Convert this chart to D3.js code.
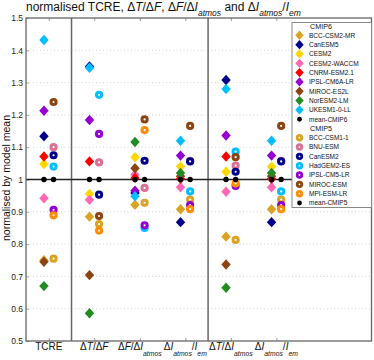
<!DOCTYPE html>
<html><head><meta charset="utf-8">
<script src="https://cdn.jsdelivr.net/npm/d3@7"></script>
<style>body{margin:0;background:#fff}svg{display:block;font-family:"Liberation Sans",Arial,sans-serif}</style>
</head><body><svg id="c" width="374" height="360"></svg>
<script>
// categories (x positions 1..6)
const categories = ["TCRE","dTdF","dFdIatm","dIatmIem","dTdIatm","dIatmIem2"];
const yTicks = [0.5,0.6,0.7,0.8,0.9,1,1.1,1.2,1.3,1.4,1.5];
const yTickLabels = ["0.5","0.6","0.7","0.8","0.9","1","1.1","1.2","1.3","1.4","1.5"];

// CMIP6 models (diamonds)
const cmip6Names = ["BCC-CSM2-MR","CanESM5","CESM2","CESM2-WACCM","CNRM-ESM2.1","IPSL-CM6A-LR","MIROC-ES2L","NorESM2-LM","UKESM1-0-LL","mean-CMIP6"];
const cmip6Colors = ["#D9A323","#00008B","#FFD700","#FF69B4","#FF0000","#9400D3","#8B4513","#228B22","#00BFFF","#000000"];
const cmip6Values = [
  [0.750, 0.885, 0.922, 0.908, 0.823, 0.908],
  [1.134, 1.350, 0.958, 0.868, 1.308, 0.868],
  [1.048, 0.955, 1.069, 1.040, 1.024, 1.040],
  [0.942, 0.937, 1.015, 0.976, 0.962, 0.976],
  [1.071, 1.056, 1.005, 1.002, 1.071, 1.002],
  [1.213, 1.184, 0.965, 1.074, 1.136, 1.074],
  [0.745, 0.704, 1.035, 1.010, 0.737, 1.010],
  [0.670, 0.586, 1.116, 1.020, 0.665, 1.020],
  [1.432, 1.346, 0.948, 1.120, 1.280, 1.120],
  [1, 1, 1, 1, 1, 1]
];
// CMIP5 models (circles)
const cmip5Names = ["BCC-CSM1-1","BNU-ESM","CanESM2","HadGEM2-ES","IPSL-CM5-LR","MIROC-ESM","MPI-ESM-LR","mean-CMIP5"];
const cmip5Colors = ["#D9A323","#DB7093","#00008B","#00BFFF","#9400D3","#8B4513","#FF8C00","#000000"];
const cmip5Values = [
  [0.755, 0.862, 0.928, 0.938, 0.813, 0.938],
  [1.100, 1.053, 0.974, 1.058, 1.043, 1.058],
  [1.075, 0.953, 1.058, 1.056, 1.024, 1.056],
  [1.040, 1.262, 0.850, 0.963, 1.086, 0.963],
  [0.906, 1.141, 0.858, 0.921, 0.980, 0.921],
  [1.240, 0.887, 1.186, 1.166, 1.069, 1.166],
  [0.889, 0.842, 1.153, 0.908, 0.988, 0.908],
  [1, 1, 1, 1, 1, 1]
];

const svg = d3.select("#c");
const L=26, R=371.5, T=18, B=341;
const x = d3.scaleLinear().domain([0.5, 8.09]).range([L, R]);
const y = d3.scaleLinear().domain([0.5, 1.5]).range([B, T]);

// grid
svg.append("g").selectAll("line").data(yTicks.slice(1,-1)).join("line")
  .attr("x1",L).attr("x2",R).attr("y1",d=>y(d)).attr("y2",d=>y(d))
  .attr("stroke","#c8c8c8").attr("stroke-width",0.8).attr("stroke-dasharray","1,2.5");

// axes with d3
const gl = svg.append("g").attr("transform",`translate(${L},0)`)
  .call(d3.axisLeft(y).tickValues(yTicks).tickFormat((d,i)=>yTickLabels[i]).tickSizeInner(-3).tickSizeOuter(0).tickPadding(3));
gl.select(".domain").remove();
gl.selectAll(".tick line").attr("stroke","#aaa");
gl.selectAll(".tick text").attr("font-size",8.5).attr("font-family","Liberation Sans, Arial, sans-serif").attr("fill","#222");

const xt = d3.range(1, categories.length+1);
const gb = svg.append("g").attr("transform",`translate(0,${B})`)
  .call(d3.axisBottom(x).tickValues(xt).tickSizeInner(-3).tickSizeOuter(0).tickFormat(""));
gb.select(".domain").remove(); gb.selectAll(".tick line").attr("stroke","#999");
const gt = svg.append("g").attr("transform",`translate(0,${T})`)
  .call(d3.axisTop(x).tickValues(xt).tickSizeInner(-3).tickSizeOuter(0).tickFormat(""));
gt.select(".domain").remove(); gt.selectAll(".tick line").attr("stroke","#999");

// separators
svg.append("g").selectAll("line").data([1.5,4.5]).join("line")
  .attr("x1",d=>x(d)).attr("x2",d=>x(d)).attr("y1",T).attr("y2",B)
  .attr("stroke","#666").attr("stroke-width",1.5);

// line at 1
svg.append("line").attr("x1",L).attr("x2",R).attr("y1",y(1)).attr("y2",y(1))
  .attr("stroke","#222").attr("stroke-width",1.3);

// frame
svg.append("rect").attr("x",L).attr("y",T).attr("width",R-L).attr("height",B-T)
  .attr("fill","none").attr("stroke","#666").attr("stroke-width",1.3);

const diamond = "M0,-5.2L4.7,0L0,5.2L-4.7,0Z";
const off = 4.8;
// CMIP6 diamonds
cmip6Values.forEach((vals,m)=>{
  const g = svg.append("g");
  vals.forEach((v,i)=>{
    if (cmip6Names[m].startsWith("mean")) {
      g.append("circle").attr("cx",x(i+1)-off).attr("cy",y(v)).attr("r",2.7).attr("fill","#000");
    } else {
      g.append("path").attr("d",diamond).attr("transform",`translate(${x(i+1)-off},${y(v)})`).attr("fill",cmip6Colors[m]);
    }
  });
});
// CMIP5 circles
cmip5Values.forEach((vals,m)=>{
  const g = svg.append("g");
  vals.forEach((v,i)=>{
    if (cmip5Names[m].startsWith("mean")) {
      g.append("circle").attr("cx",x(i+1)+off).attr("cy",y(v)).attr("r",2.7).attr("fill","#000");
    } else {
      g.append("circle").attr("cx",x(i+1)+off).attr("cy",y(v)).attr("r",2.6).attr("fill","#fff")
        .attr("stroke",cmip5Colors[m]).attr("stroke-width",3);
    }
  });
});

// x labels
function richLabel(sel, parts, mainSize, subSize, dySub){
  parts.forEach(p=>{
    const t = sel.append("tspan").text(p.t);
    if (p.i) t.attr("font-style","italic");
    if (p.s) t.attr("font-size",subSize).attr("dy",dySub);
    if (p.back) t.attr("dy",-dySub);
  });
}
const xLabelParts = [
  [{t:"TCRE"}],
  [{t:"Δ"},{t:"T",i:1},{t:"/Δ"},{t:"F",i:1}],
  [{t:"Δ"},{t:"F",i:1},{t:"/Δ"},{t:"I",i:1},{t:"atmos",s:1,i:1}],
  [{t:"Δ"},{t:"I",i:1},{t:"atmos",s:1,i:1},{t:"/",back:1},{t:"I",i:1},{t:"em",s:1,i:1}],
  [{t:"Δ"},{t:"T",i:1},{t:"/Δ"},{t:"I",i:1},{t:"atmos",s:1,i:1}],
  [{t:"Δ"},{t:"I",i:1},{t:"atmos",s:1,i:1},{t:"/",back:1},{t:"I",i:1},{t:"em",s:1,i:1}]
];
xLabelParts.forEach((parts,i)=>{
  const t = svg.append("text").attr("x",x(i+1)).attr("y",350).attr("text-anchor","middle")
    .attr("font-size",10).attr("fill","#111");
  richLabel(t, parts, 10, 6.8, 6);
});

// title
const title = svg.append("text").attr("x",26).attr("y",11).attr("font-size",12).attr("fill","#111");
richLabel(title, [{t:"normalised TCRE,  Δ"},{t:"T",i:1},{t:"/Δ"},{t:"F",i:1},{t:",  Δ"},{t:"F",i:1},{t:"/Δ"},{t:"I",i:1},
  {t:"atmos",s:1,i:1},{t:" and Δ",back:1},{t:"I",i:1},{t:"atmos",s:1,i:1},{t:"/",back:1},{t:"I",i:1},{t:"em",s:1,i:1}], 12, 8.5, 5);

// y label
svg.append("text").attr("transform","translate(9.5,178) rotate(-90)").attr("text-anchor","middle")
  .attr("font-size",10.5).attr("fill","#111").text("normalised by model mean");

// legend
const lg = svg.append("g");
lg.append("rect").attr("x",292).attr("y",22.5).attr("width",79.5).attr("height",185)
  .attr("fill","#fff").attr("stroke","#888").attr("stroke-width",1);
const lx = 299.5, tx = 309, step = 9.33;
lg.append("text").attr("x",310).attr("y",29.4).attr("font-size",7.2).attr("fill","#111").text("CMIP6");
cmip6Names.forEach((n,i)=>{
  const cy = 35.3 + i*step;
  if (n.startsWith("mean")) lg.append("circle").attr("cx",lx).attr("cy",cy).attr("r",2.4).attr("fill","#000");
  else lg.append("path").attr("d","M0,-4.6L4.2,0L0,4.6L-4.2,0Z").attr("transform",`translate(${lx},${cy})`).attr("fill",cmip6Colors[i]);
  lg.append("text").attr("x",tx).attr("y",cy+2.3).attr("font-size",6.5).attr("fill","#111").text(n);
});
lg.append("text").attr("x",310).attr("y",131).attr("font-size",7.2).attr("fill","#111").text("CMIP5");
cmip5Names.forEach((n,i)=>{
  const cy = 137.7 + i*step;
  if (n.startsWith("mean")) lg.append("circle").attr("cx",lx).attr("cy",cy).attr("r",2.4).attr("fill","#000");
  else lg.append("circle").attr("cx",lx).attr("cy",cy).attr("r",2.3).attr("fill","#fff").attr("stroke",cmip5Colors[i]).attr("stroke-width",2.8);
  lg.append("text").attr("x",tx).attr("y",cy+2.3).attr("font-size",6.5).attr("fill","#111").text(n);
});
</script></body></html>
